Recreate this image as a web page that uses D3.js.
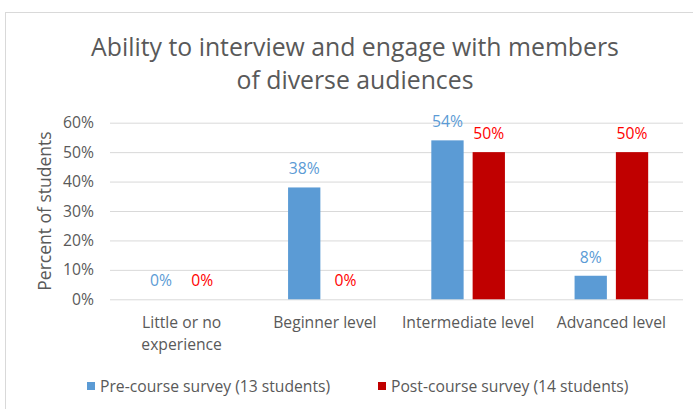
<!DOCTYPE html>
<html>
<head>
<meta charset="utf-8">
<script src="https://cdn.jsdelivr.net/npm/d3@7"></script>
<style>
  html, body { margin: 0; padding: 0; background: #fff; }
  svg { display: block; font-family: "Open Sans", Lato, sans-serif; }
</style>
</head>
<body>
<svg id="chart" width="693" height="409"></svg>
<script>
// Survey results: share of students at each self-rated level
const categories = ["Little or no experience", "Beginner level", "Intermediate level", "Advanced level"];
const categoryLines = [["Little or no", "experience"], ["Beginner level"], ["Intermediate level"], ["Advanced level"]];
const seriesNames = ["Pre-course survey (13 students)", "Post-course survey (14 students)"];
const preCourse = [0, 38, 54, 8];
const postCourse = [0, 0, 50, 50];
const yTicks = [0, 10, 20, 30, 40, 50, 60];
const titleLines = ["Ability to interview and engage with members", "of diverse audiences"];

const barColors = ["#5B9BD5", "#C00000"];
const labelColors = ["#5B9BD5", "#FF0000"];
const textGray = "#595959";
const labelSize = "15.7px";

const svg = d3.select("#chart");

// chart frame
svg.append("rect")
  .attr("x", 5.5).attr("y", 12.5)
  .attr("width", 710).attr("height", 420)
  .attr("fill", "#fff").attr("stroke", "#D9D9D9").attr("stroke-width", 1);

const plot = { left: 110, right: 683, top: 122.7, bottom: 299.3 };

const x0 = d3.scaleBand().domain(categories).range([plot.left, plot.right]).padding(0);
const x1 = d3.scaleBand().domain(seriesNames).range([0, x0.bandwidth()])
  .paddingInner(0.218).paddingOuter(0.843);
const y = d3.scaleLinear().domain([0, 60]).range([plot.bottom, plot.top]);

// title
svg.append("g").selectAll("text").data(titleLines).join("text")
  .attr("x", 355).attr("y", (d, i) => 56 + i * 33)
  .attr("text-anchor", "middle")
  .attr("fill", textGray)
  .style("font-size", "24.8px")
  .text(d => d);

// gridlines and y-axis labels
const yAxis = d3.axisLeft(y).tickValues(yTicks)
  .tickSize(-(plot.right - plot.left)).tickPadding(16)
  .tickFormat(d => d + "%");
const gy = svg.append("g").attr("transform", `translate(${plot.left},0)`).call(yAxis);
gy.select(".domain").remove();
gy.selectAll(".tick line").attr("stroke", "#D9D9D9").attr("stroke-width", 1);
gy.selectAll(".tick text").attr("fill", textGray).style("font-size", labelSize)
  .style("font-family", "'Open Sans', sans-serif");

// y-axis title
svg.append("text")
  .attr("transform", "translate(51,211) rotate(-90)")
  .attr("text-anchor", "middle")
  .attr("fill", textGray)
  .style("font-size", "17.5px")
  .text("Percent of students");

// bars
const rows = categories.map((c, i) => ({ cat: c, vals: [preCourse[i], postCourse[i]] }));
const groups = svg.append("g").selectAll("g").data(rows).join("g")
  .attr("transform", d => `translate(${x0(d.cat)},0)`);

groups.selectAll("rect").data(d => d.vals.map((v, s) => ({ v, s })))
  .join("rect")
  .attr("x", d => x1(seriesNames[d.s]))
  .attr("width", x1.bandwidth())
  .attr("y", d => y(d.v))
  .attr("height", d => y(0) - y(d.v))
  .attr("fill", d => barColors[d.s]);

// value labels
groups.selectAll("text").data(d => d.vals.map((v, s) => ({ v, s })))
  .join("text")
  .attr("x", d => x1(seriesNames[d.s]) + x1.bandwidth() / 2)
  .attr("y", d => y(d.v) - 13)
  .attr("text-anchor", "middle")
  .attr("fill", d => labelColors[d.s])
  .style("font-size", labelSize)
  .text(d => d.v + "%");

// category labels
const catG = svg.append("g").selectAll("text").data(categories).join("text")
  .attr("x", d => x0(d) + x0.bandwidth() / 2)
  .attr("y", 328)
  .attr("text-anchor", "middle")
  .attr("fill", textGray)
  .style("font-size", labelSize);
catG.selectAll("tspan").data((d, i) => categoryLines[i]).join("tspan")
  .attr("x", function () { return this.parentNode.getAttribute("x"); })
  .attr("dy", (d, i) => i === 0 ? 0 : 22)
  .text(d => d);

// legend
const legendX = [87, 378];
const leg = svg.append("g").selectAll("g").data(seriesNames).join("g")
  .attr("transform", (d, i) => `translate(${legendX[i]},382)`);
leg.append("rect").attr("width", 8).attr("height", 8).attr("fill", (d, i) => barColors[i]);
leg.append("text").attr("x", 13).attr("y", 9.5)
  .attr("fill", textGray).style("font-size", labelSize)
  .text(d => d);
</script>
</body>
</html>
